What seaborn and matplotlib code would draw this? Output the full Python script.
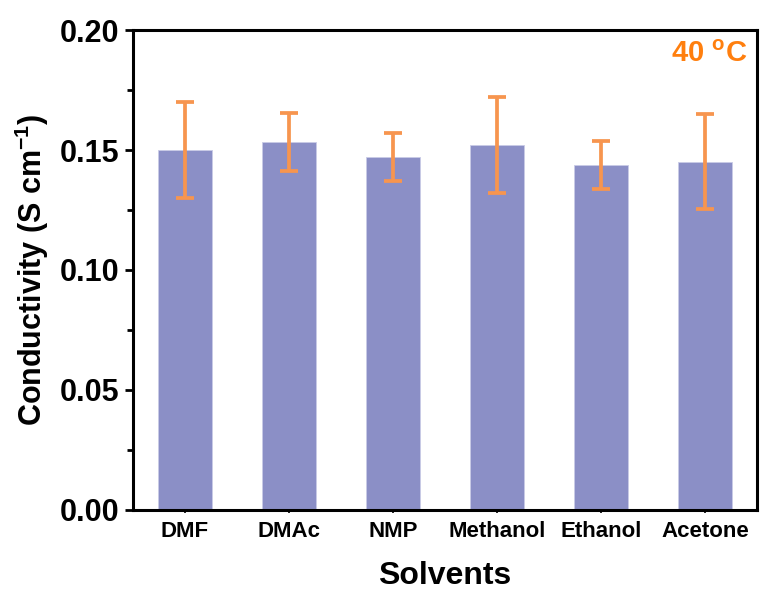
"""Conductivity of membranes cast from different solvents at 40 C."""

import matplotlib
matplotlib.use("Agg")
import matplotlib.pyplot as plt
import numpy as np
import pandas as pd
import seaborn as sns
from matplotlib.ticker import MultipleLocator, FormatStrFormatter

# Data
solvents = ["DMF", "DMAc", "NMP", "Methanol", "Ethanol", "Acetone"]
conductivity = [0.150, 0.1533, 0.1472, 0.1522, 0.1438, 0.1452]
errors = [0.020, 0.012, 0.010, 0.020, 0.010, 0.020]

BAR_COLOR = "#8B8FC6"
ERR_COLOR = "#F7954F"
LABEL_COLOR = "#FF7F0E"

sns.set_theme(style="white")
plt.rcParams["font.family"] = ["Liberation Sans", "DejaVu Sans"]
plt.rcParams["font.weight"] = "bold"
plt.rcParams["mathtext.default"] = "regular"
for key in ["text.color", "axes.labelcolor", "xtick.color", "ytick.color"]:
    plt.rcParams[key] = "black"

df = pd.DataFrame({"solvent": solvents, "conductivity": conductivity})

fig = plt.figure(figsize=(7.6, 5.9), dpi=100)
ax = fig.add_axes([0.175, 0.136, 0.821, 0.813])

sns.barplot(
    data=df,
    x="solvent",
    y="conductivity",
    color=BAR_COLOR,
    saturation=1,
    width=0.52,
    errorbar=None,
    edgecolor="#C9CBE6",
    linewidth=0.6,
    ax=ax,
)

# Error bars on top of the bars
ax.errorbar(
    np.arange(len(solvents)),
    conductivity,
    yerr=errors,
    fmt="none",
    ecolor=ERR_COLOR,
    elinewidth=2.7,
    capsize=6.5,
    capthick=2.7,
    zorder=5,
)

ax.set_xlim(-0.5, len(solvents) - 0.5)
ax.set_ylim(0, 0.20)
ax.yaxis.set_major_locator(MultipleLocator(0.05))
ax.yaxis.set_minor_locator(MultipleLocator(0.025))
ax.yaxis.set_major_formatter(FormatStrFormatter("%.2f"))

for spine in ax.spines.values():
    spine.set_visible(True)
    spine.set_color("black")
    spine.set_linewidth(2.2)

ax.tick_params(axis="y", which="major", direction="out", length=6, width=2,
               labelsize=22, left=True, pad=4)
ax.tick_params(axis="y", which="minor", direction="out", length=4, width=2, left=True)
ax.tick_params(axis="x", which="major", direction="out", length=2, width=1.2,
               labelsize=16, bottom=True, pad=6)
for lab in ax.get_xticklabels() + ax.get_yticklabels():
    lab.set_fontweight("bold")

ax.set_xlabel("Solvents", fontsize=23, fontweight="bold", labelpad=14)
ax.set_ylabel("Conductivity (S cm$^{-1}$)", fontsize=22, fontweight="bold", labelpad=6)

ax.text(0.985, 0.95, "40 $^{o}$C", transform=ax.transAxes, ha="right", va="center",
        fontsize=21, fontweight="bold", color=LABEL_COLOR)

fig.savefig("out.png", dpi=100)
